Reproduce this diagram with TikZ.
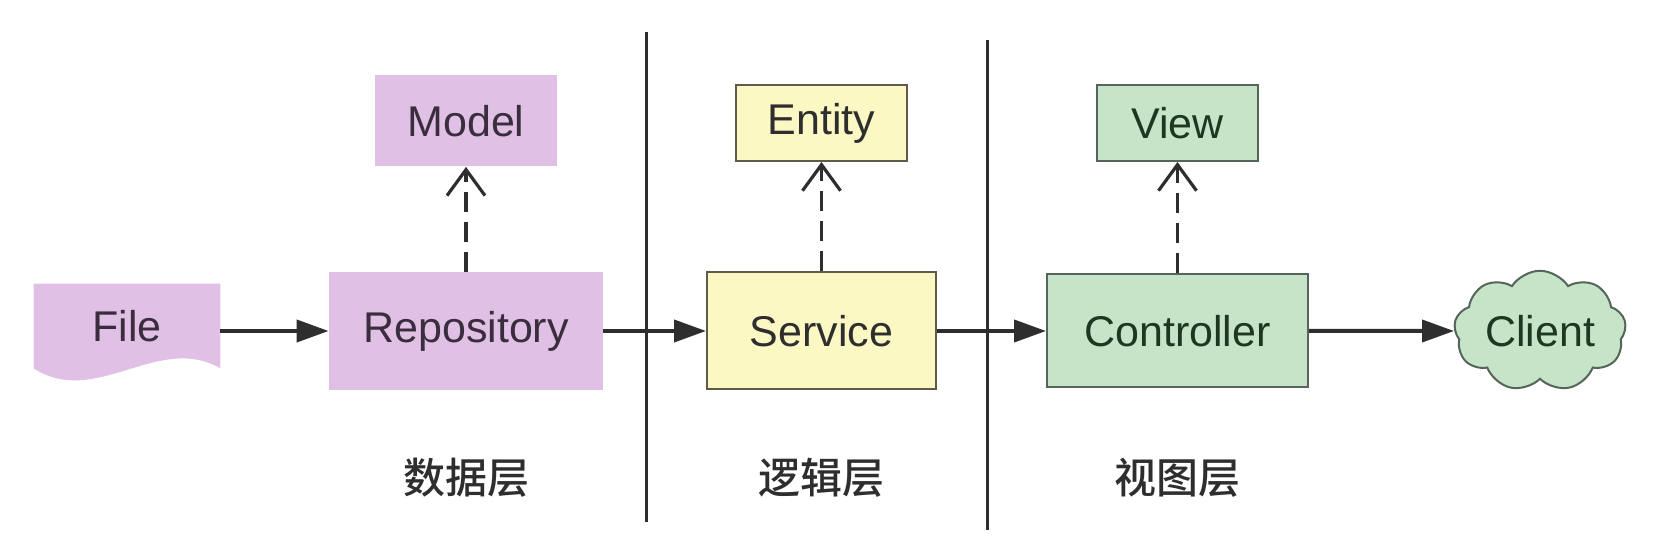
\documentclass[tikz,border=0pt]{standalone}
\usepackage{fontspec}
\setmainfont{Liberation Sans}
\newfontfamily\cjk[BoldFont={Noto Sans CJK SC Medium}]{Noto Sans CJK SC}
\usetikzlibrary{shapes.symbols,positioning,arrows.meta,backgrounds}
\definecolor{purplefill}{HTML}{E1C0E6}
\definecolor{purpletext}{HTML}{3A2E3E}
\definecolor{yellowfill}{HTML}{FCF8C4}
\definecolor{yellowline}{HTML}{5E5C48}
\definecolor{greenfill}{HTML}{C6E5C8}
\definecolor{greenline}{HTML}{56655A}
\definecolor{greentext}{HTML}{1F3623}
\definecolor{inkgray}{HTML}{2E2E2E}
\tikzset{box/.style={rectangle, inner sep=0pt, font=\fontsize{21.5pt}{26pt}\selectfont},
    purplebox/.style={box, fill=purplefill, text=purpletext},
    filebox/.style={box, text=purpletext},
    yellowbox/.style={box, fill=yellowfill, draw=yellowline, line width=1pt, text=inkgray},
    greenbox/.style={box, fill=greenfill, draw=greenline, line width=1pt, text=greentext},
    layer/.style={font=\cjk\bfseries\fontsize{21pt}{25pt}\selectfont, text=inkgray}}

\begin{document}
\begin{tikzpicture}[x=0.5pt, y=-0.5pt, node distance=178pt,
    flow/.style={draw=inkgray, line width=2pt, -{Triangle[length=16pt,width=11pt]}},
    dep/.style={draw=inkgray, line width=1.6pt, dash pattern=on 10pt off 5pt, -{Straight Barb[length=13pt,width=19pt]}},
    divider/.style={draw=inkgray, line width=1.5pt}]
    \useasboundingbox (0,0) rectangle (1661,549);

    \node[filebox, minimum width=93pt, minimum height=42pt] (file) at (127,326) {File};
    \node[purplebox, minimum width=137pt, minimum height=59pt] (repo) at (466,331) {Repository};
    \node[purplebox, node distance=105pt, above of=repo, minimum width=91pt, minimum height=45.5pt] (model) {Model};

    \node[yellowbox, node distance=177.75pt, right of=repo, minimum width=114.5pt, minimum height=58.5pt] (service) {Service};
    \node[yellowbox, node distance=104pt, above of=service, minimum width=85.5pt, minimum height=38pt] (entity) {Entity};

    \node[greenbox, right of=service, minimum width=130.5pt, minimum height=56.5pt] (controller) {Controller};
    \node[greenbox, node distance=104pt, above of=controller, minimum width=80.5pt, minimum height=38pt] (view) {View};
    \node[greenbox, cloud, cloud puffs=9, cloud puff arc=115, aspect=1.6, node distance=181.25pt, right of=controller, minimum width=86pt, minimum height=59.5pt] (client) {Client};

    \begin{scope}[on background layer]
        \fill[purplefill] (file.north west) -- (file.south west) .. controls +(31pt,-20pt) and +(-31pt,18pt) .. (file.south east) -- (file.north east) -- cycle;
    \end{scope}

    \draw[flow] (file.east |- repo.west) -- (repo.west);
    \draw[flow] (repo) -- (service);
    \draw[flow] (service) -- (controller);
    \draw[flow] (controller) -- (client);

    \draw[dep] (repo) -- (model);
    \draw[dep] (service) -- (entity);
    \draw[dep] (controller) -- (view);

    \draw[divider] (646,32) -- (646,522);
    \draw[divider] (987,40) -- (987,530);

    \node[layer, node distance=73.5pt, below of=repo] (datalayer) {数据层};
    \node[layer, node distance=73.5pt, below of=service] (logiclayer) {逻辑层};
    \node[layer, node distance=73.5pt, below of=controller] (viewlayer) {视图层};
\end{tikzpicture}
\end{document}
